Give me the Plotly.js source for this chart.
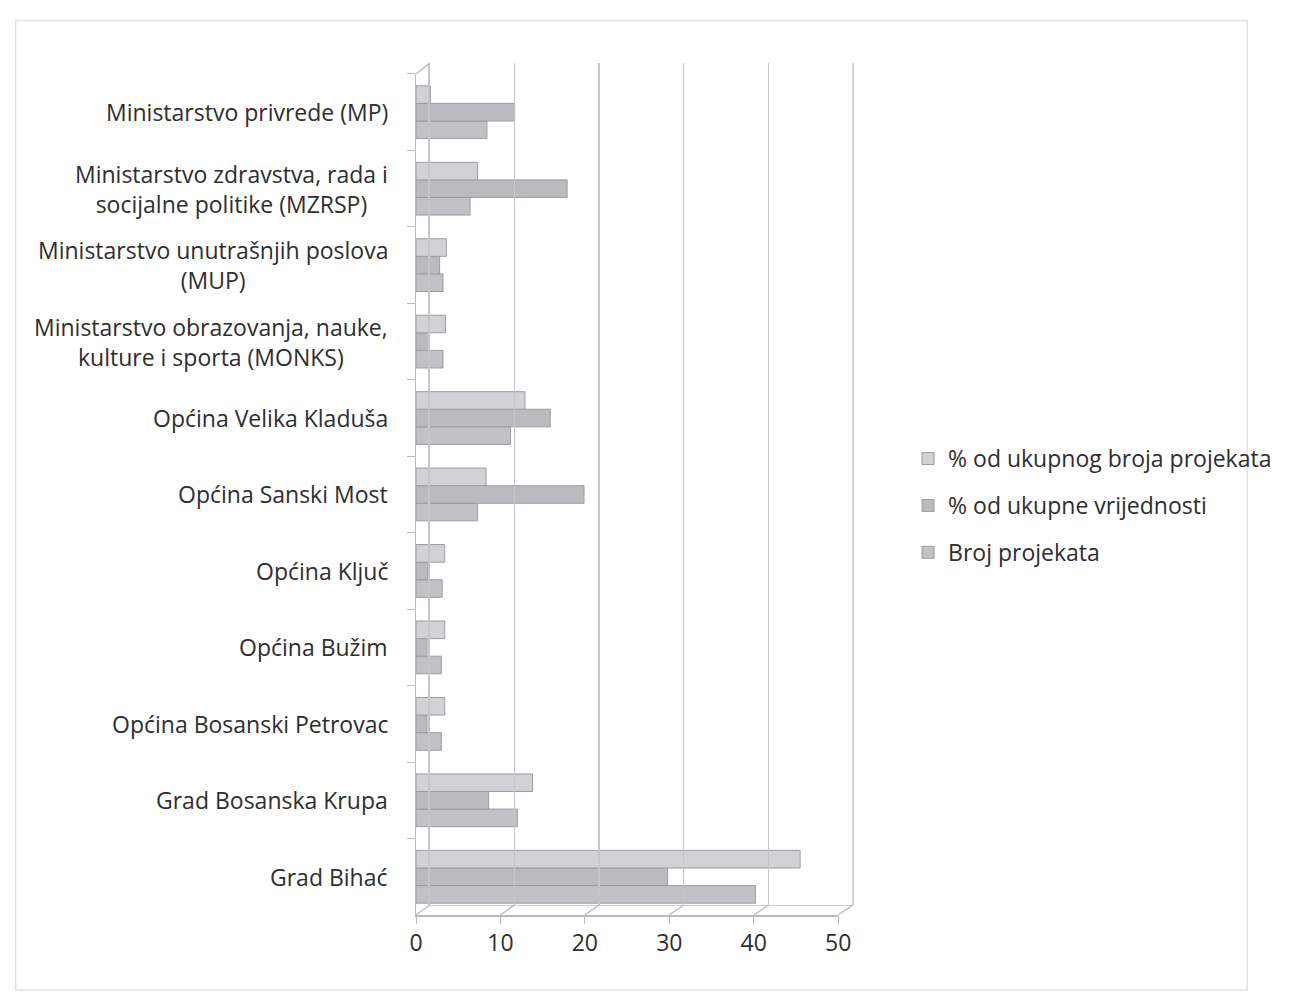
<!DOCTYPE html>
<html>
<head>
<meta charset="utf-8">
<script src="https://cdn.plot.ly/plotly-3.0.1.min.js"></script>
<style>html,body{margin:0;padding:0;background:#fff;}#chart{width:1289px;height:996px;}</style>
</head>
<body>
<div id="chart"></div>
<script>
// Categories, bottom to top as drawn on the chart
const categories = [
  "Grad Bihać",
  "Grad Bosanska Krupa",
  "Općina Bosanski Petrovac",
  "Općina Bužim",
  "Općina Ključ",
  "Općina Sanski Most",
  "Općina Velika Kladuša",
  "Ministarstvo obrazovanja, nauke,<br>kulture i sporta (MONKS)",
  "Ministarstvo unutrašnjih poslova<br>(MUP)",
  "Ministarstvo zdravstva, rada i<br>socijalne politike (MZRSP)",
  "Ministarstvo privrede (MP)"
];
const seriesNames = ["Broj projekata", "% od ukupne vrijednosti", "% od ukupnog broja projekata"];
const brojProjekata      = [40.2, 12.0, 3.0, 3.0, 3.1, 7.3, 11.2, 3.2, 3.2, 6.4, 8.4];
const pctVrijednosti     = [29.8, 8.6, 1.3, 1.3, 1.4, 19.9, 15.9, 1.6, 2.8, 17.9, 11.7];
const pctBrojaProjekata  = [45.5, 13.8, 3.4, 3.4, 3.4, 8.3, 12.9, 3.5, 3.6, 7.3, 1.7];
const xTicks = [0, 10, 20, 30, 40, 50];

const FONT = "'Open Sans', 'Noto Sans', sans-serif";
const TXT = "#2e2e2e";
const colors = ["#c2c2c6", "#bbbbbf", "#d2d2d6"];
const values = [brojProjekata, pctVrijednosti, pctBrojaProjekata];
const legendRanks = [3, 2, 1];

// front (x) and back-wall (x2) axis domains
const FRONT = [0, 0.966];
const BACK = [0.0317, 1];
const Y_FRONT = [0, 0.9871];
const Y_BACK = [0.0117, 1];

const traces = values.map((v, i) => ({
  type: "bar",
  orientation: "h",
  name: seriesNames[i],
  legendgroup: "g" + i,
  legendrank: legendRanks[i],
  y: categories,
  x: v,
  xaxis: "x", yaxis: "y",
  marker: {color: colors[i], line: {color: "#9c9ca0", width: 1}},
  hoverinfo: "x+name"
}));
// empty trace to host the back-wall grid subplot
traces.push({type: "scatter", x: [], y: [], xaxis: "x2", yaxis: "y2", showlegend: false, hoverinfo: "skip"});

const annotations = categories.map(c => ({
  xref: "paper", yref: "y",
  x: -0.059, y: c,
  xanchor: "right", yanchor: "middle",
  align: "center",
  text: c,
  showarrow: false,
  font: {family: FONT, size: 23, color: TXT}
}));

const lineCol = "#b9b9bd";
const span = xTicks[xTicks.length - 1] - xTicks[0];
const frontPx = v => FRONT[0] + (v - xTicks[0]) / span * (FRONT[1] - FRONT[0]);
const backPx = v => BACK[0] + (v - xTicks[0]) / span * (BACK[1] - BACK[0]);
const floorLinks = xTicks.map(v => ({
  type: "line", xref: "paper", yref: "paper",
  x0: frontPx(v), y0: Y_FRONT[0], x1: backPx(v), y1: Y_BACK[0],
  line: {color: lineCol, width: 1.3}
}));

const layout = {
  width: 1289, height: 996,
  margin: {l: 416, r: 432, t: 63, b: 81},
  paper_bgcolor: "#ffffff",
  plot_bgcolor: "rgba(0,0,0,0)",
  barmode: "group",
  bargap: 0.31,
  bargroupgap: 0,
  showlegend: true,
  legend: {
    x: 1.126, y: 0.561, xanchor: "left", yanchor: "top",
    traceorder: "grouped",
    font: {family: FONT, size: 23, color: TXT},
    tracegroupgap: 14,
    bgcolor: "rgba(0,0,0,0)"
  },
  xaxis: {
    domain: FRONT,
    anchor: "y",
    range: [0, 50],
    tickvals: xTicks,
    ticktext: xTicks.map(String),
    tickfont: {family: FONT, size: 23, color: TXT},
    showgrid: false,
    zeroline: false,
    showline: true,
    linecolor: lineCol,
    linewidth: 1.5,
    ticks: "outside",
    ticklen: 7,
    tickcolor: lineCol,
    fixedrange: true
  },
  yaxis: {
    domain: Y_FRONT,
    anchor: "x",
    type: "category",
    categoryorder: "array",
    categoryarray: categories,
    showticklabels: false,
    showgrid: false,
    zeroline: false,
    showline: true,
    linecolor: lineCol,
    linewidth: 1.5,
    ticks: "outside",
    tickson: "boundaries",
    ticklen: 8,
    tickcolor: lineCol,
    fixedrange: true
  },
  xaxis2: {
    domain: BACK,
    anchor: "y2",
    range: [0, 50],
    tickvals: xTicks,
    showticklabels: false,
    ticks: "",
    showgrid: true,
    gridcolor: "#c6c6ca",
    gridwidth: 1.5,
    zeroline: false,
    showline: true,
    linecolor: "#cfcfd3",
    linewidth: 1.3,
    fixedrange: true
  },
  yaxis2: {
    domain: Y_BACK,
    anchor: "x2",
    range: [0, 1],
    showticklabels: false,
    ticks: "",
    showgrid: false,
    zeroline: false,
    showline: true,
    linecolor: "#c6c6ca",
    linewidth: 1.5,
    fixedrange: true
  },
  annotations: annotations,
  shapes: [
    {type: "rect", xref: "paper", yref: "paper", x0: -0.916, x1: 1.902, y0: -0.088, y1: 1.05,
     line: {color: "#e2e2e2", width: 1.5}, layer: "below"},
    // top-left depth connector of the front axis
    {type: "line", xref: "paper", yref: "paper", x0: FRONT[0], y0: Y_FRONT[1], x1: BACK[0], y1: Y_BACK[1],
     line: {color: lineCol, width: 1.3}},
    // right back-wall edge
    {type: "line", xref: "paper", yref: "paper", x0: BACK[1], y0: Y_BACK[0], x1: BACK[1], y1: Y_BACK[1],
     line: {color: "#c6c6ca", width: 1.5}}
  ].concat(floorLinks)
};

Plotly.newPlot("chart", traces, layout, {displayModeBar: false, staticPlot: true});
</script>
</body>
</html>
